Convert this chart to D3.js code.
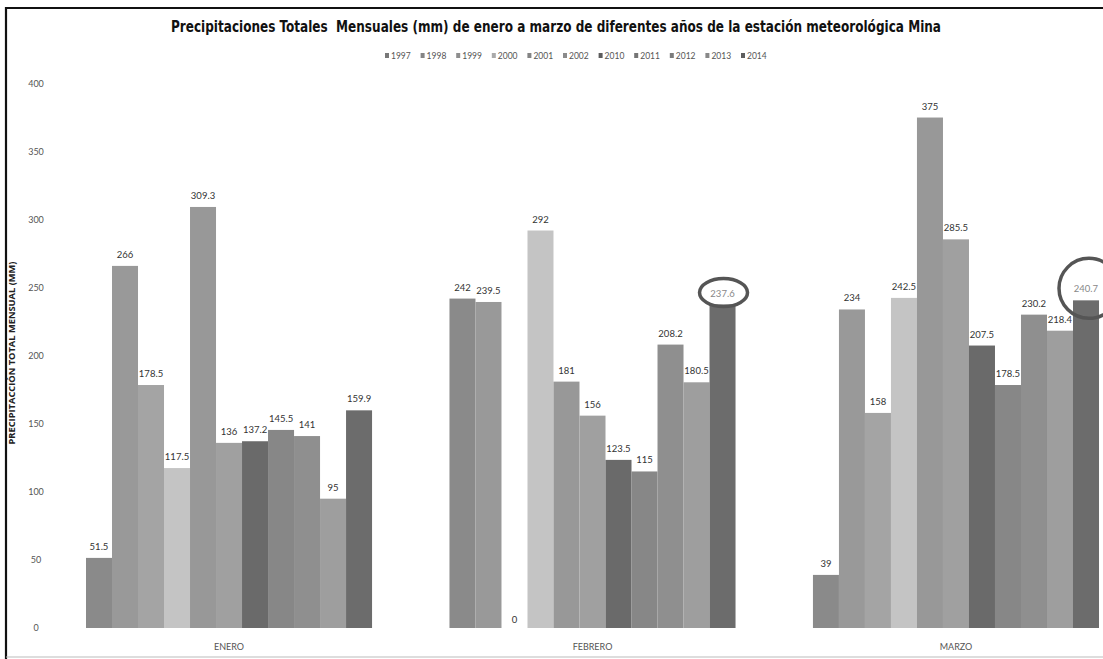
<!DOCTYPE html>
<html>
<head>
<meta charset="utf-8">
<script src="https://cdn.jsdelivr.net/npm/d3@7"></script>
<style>
  html, body { margin: 0; padding: 0; background: #fff; }
  svg { display: block; }
</style>
</head>
<body>
<svg id="chart" width="1103" height="659"></svg>
<script>
// Monthly totals (mm) per year, station Mina
const months = ["ENERO", "FEBRERO", "MARZO"];
const years = ["1997", "1998", "1999", "2000", "2001", "2002", "2010", "2011", "2012", "2013", "2014"];
const enero   = [51.5, 266, 178.5, 117.5, 309.3, 136, 137.2, 145.5, 141, 95, 159.9];
const febrero = [242, 239.5, 0, 292, 181, 156, 123.5, 115, 208.2, 180.5, 237.6];
const marzo   = [39, 234, 158, 242.5, 375, 285.5, 207.5, 178.5, 230.2, 218.4, 240.7];
const yTicks = [0, 50, 100, 150, 200, 250, 300, 350, 400];
const yearColors = ["#8a8a8a", "#999999", "#a4a4a4", "#c4c4c4", "#989898", "#a0a0a0",
                    "#6a6a6a", "#878787", "#8f8f8f", "#9e9e9e", "#6c6c6c"];
// values whose labels are ringed
const ringed = [{ month: "FEBRERO", year: "2014", rx: 24, ry: 14 },
                { month: "MARZO", year: "2014", rx: 30, ry: 30 }];

const byMonth = { ENERO: enero, FEBRERO: febrero, MARZO: marzo };
const rows = [];
months.forEach(m => years.forEach((yr, i) => rows.push({ month: m, year: yr, value: byMonth[m][i] })));

const svg = d3.select("#chart");
const W = 1103, H = 659;
const labelFont = "Lato, 'Open Sans', sans-serif";

// frame
svg.append("line").attr("x1", 6).attr("x2", 6).attr("y1", 7).attr("y2", H)
  .attr("stroke", "#111").attr("stroke-width", 2.2);
svg.append("line").attr("x1", 5).attr("x2", W).attr("y1", 8).attr("y2", 8)
  .attr("stroke", "#111").attr("stroke-width", 2.2);
svg.append("line").attr("x1", 6).attr("x2", W).attr("y1", 657).attr("y2", 657)
  .attr("stroke", "#bbb").attr("stroke-width", 1);

const x0 = d3.scaleBand().domain(months).range([86, 1099]).paddingInner(0.213).paddingOuter(0);
const x1 = d3.scaleBand().domain(years).range([0, x0.bandwidth()]).padding(0);
const y = d3.scaleLinear().domain([0, 400]).range([628, 83.5]);
const color = d3.scaleOrdinal().domain(years).range(yearColors);

// title
svg.append("text")
  .attr("x", 556).attr("y", 32)
  .attr("text-anchor", "middle")
  .attr("font-family", "'DejaVu Sans Condensed', 'DejaVu Sans', sans-serif")
  .attr("font-weight", "bold").attr("font-size", 15.5).attr("fill", "#111")
  .attr("textLength", 770).attr("lengthAdjust", "spacingAndGlyphs")
  .style("white-space", "pre")
  .text("Precipitaciones Totales  Mensuales (mm) de enero a marzo de diferentes años de la estación meteorológica Mina");

// legend
const legend = svg.append("g").attr("transform", "translate(385,56)");
const leg = legend.selectAll("g").data(years).join("g")
  .attr("transform", (d, i) => `translate(${i * 35.6},0)`);
leg.append("rect").attr("x", 0).attr("y", -3).attr("width", 4).attr("height", 5)
  .attr("fill", d => d3.color(color(d)).darker(0.4));
leg.append("text").attr("x", 6).attr("y", 2.5)
  .attr("font-family", labelFont).attr("font-size", 8.5)
  .attr("fill", "#555").text(d => d);

// y axis (labels only)
const yAxis = svg.append("g").attr("transform", "translate(36,0)")
  .call(d3.axisLeft(y).tickValues(yTicks).tickSize(0).tickPadding(0));
yAxis.select(".domain").remove();
yAxis.selectAll("text")
  .attr("text-anchor", "middle").attr("x", 0).attr("dy", "0.32em")
  .attr("font-family", labelFont).attr("font-size", 9)
  .attr("fill", "#555");

// y title
svg.append("text")
  .attr("transform", "translate(15,353) rotate(-90)")
  .attr("text-anchor", "middle")
  .attr("font-family", "'Open Sans', sans-serif").attr("font-weight", "bold")
  .attr("font-size", 9.3).attr("fill", "#222")
  .text("PRECIPITACCIÓN TOTAL MENSUAL (MM)");

// bars
const groups = svg.append("g").selectAll("g").data(months).join("g")
  .attr("transform", m => `translate(${x0(m)},0)`);
groups.selectAll("rect").data(m => rows.filter(r => r.month === m)).join("rect")
  .attr("x", d => x1(d.year))
  .attr("width", x1.bandwidth())
  .attr("y", d => y(d.value))
  .attr("height", d => y(0) - y(d.value))
  .attr("fill", d => color(d.year));

// value labels
groups.selectAll("text.val").data(m => rows.filter(r => r.month === m)).join("text")
  .attr("class", "val")
  .attr("x", d => x1(d.year) + x1.bandwidth() / 2)
  .attr("y", d => d.value === 0 ? y(0) - 5 : y(d.value) - 8)
  .attr("text-anchor", "middle")
  .attr("font-family", labelFont).attr("font-size", 9.5)
  .attr("fill", d => ringed.some(r => r.month === d.month && r.year === d.year) ? "#888" : "#333")
  .text(d => d3.format("")(d.value));

// rings around highlighted labels
svg.append("g").selectAll("ellipse").data(ringed).join("ellipse")
  .attr("cx", r => x0(r.month) + x1(r.year) + x1.bandwidth() / 2 + (r.ry > 20 ? 3 : 1))
  .attr("cy", r => y(byMonth[r.month][years.indexOf(r.year)]) - 12)
  .attr("rx", r => r.rx).attr("ry", r => r.ry)
  .attr("fill", "none").attr("stroke", "#555").attr("stroke-width", 3.5);

// month labels
svg.append("g").selectAll("text").data(months).join("text")
  .attr("x", m => x0(m) + x0.bandwidth() / 2)
  .attr("y", 650)
  .attr("text-anchor", "middle")
  .attr("font-family", labelFont).attr("font-size", 9)
  .attr("fill", "#555")
  .text(m => m);
</script>
</body>
</html>
